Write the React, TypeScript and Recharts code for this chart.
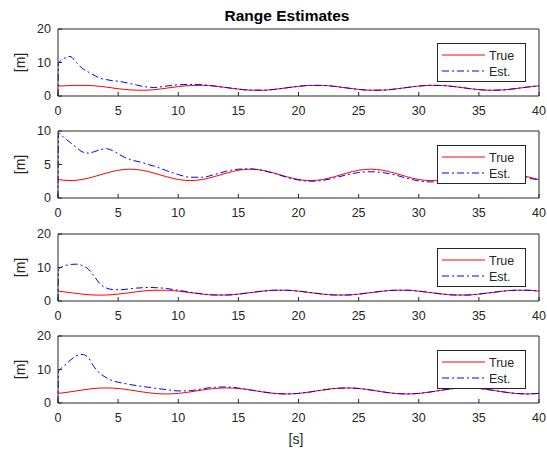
import { Line, LineChart, XAxis, YAxis } from 'recharts'

// sample times [s]
const T = [
  0, 0.05, 0.5, 1, 1.5, 2, 2.5, 3, 3.5, 4, 4.5, 5, 5.5, 6, 6.5, 7, 7.5, 8,
  9, 10, 11, 12, 13, 14, 15, 16, 17, 18, 19, 20, 21, 22, 23, 24, 25, 26, 27, 28, 29, 30,
  31, 32, 33, 34, 35, 36, 37, 38, 39, 40,
]

const TRUE_1 = [
  2.95, 2.96, 3.05, 3.12, 3.17, 3.18, 3.15, 3.05, 2.88, 2.67, 2.42, 2.18, 1.98, 1.83, 1.74, 1.71, 1.75, 1.88,
  2.33, 2.8, 3.13, 3.19, 2.95, 2.52, 2.06, 1.75, 1.72, 1.98, 2.43, 2.88, 3.16, 3.16, 2.88, 2.42, 1.98, 1.72, 1.75, 2.06, 2.52, 2.96,
  3.19, 3.12, 2.79, 2.32, 1.9, 1.71, 1.81, 2.18, 2.65, 3.04,
]
const EST_1 = [
  0, 9.8, 11.2, 11.8, 10.1, 8.3, 7.2, 6.2, 5.3, 4.9, 4.6, 4.4, 4.1, 3.7, 3.3, 2.9, 2.65, 2.55,
  2.95, 3.35, 3.45, 3.35, 3.0, 2.52, 2.05, 1.74, 1.72, 1.99, 2.44, 2.89, 3.16, 3.15, 2.87, 2.41, 1.97, 1.72, 1.76, 2.07, 2.53, 2.97,
  3.19, 3.11, 2.78, 2.31, 1.9, 1.72, 1.82, 2.19, 2.66, 3.04,
]

const TRUE_2 = [
  2.76, 2.75, 2.65, 2.6, 2.64, 2.76, 2.95, 3.19, 3.45, 3.71, 3.95, 4.14, 4.26, 4.3, 4.26, 4.14, 3.95, 3.71,
  3.19, 2.76, 2.6, 2.76, 3.19, 3.71, 4.14, 4.3, 4.14, 3.71, 3.19, 2.76, 2.6, 2.76, 3.19, 3.71, 4.14, 4.3, 4.14, 3.71, 3.19, 2.76,
  2.6, 2.76, 3.19, 3.71, 4.14, 4.3, 4.14, 3.71, 3.19, 2.76,
]
const EST_2 = [
  0, 9.7, 9.0, 8.3, 7.6, 6.9, 6.7, 6.9, 7.2, 7.35, 7.1, 6.6, 6.1, 5.75, 5.5, 5.3, 5.0, 4.75,
  4.1, 3.5, 3.1, 3.1, 3.5, 4.0, 4.3, 4.35, 4.1, 3.65, 3.1, 2.68, 2.5, 2.62, 3.0, 3.45, 3.8, 3.92, 3.8, 3.45, 2.95, 2.55,
  2.4, 2.45, 2.8, 3.3, 3.75, 3.95, 3.85, 3.45, 3.0, 2.7,
]

const TRUE_3 = [
  2.94, 2.92, 2.73, 2.5, 2.27, 2.06, 1.89, 1.79, 1.75, 1.79, 1.89, 2.06, 2.27, 2.5, 2.73, 2.94, 3.11, 3.21,
  3.21, 2.94, 2.5, 2.06, 1.79, 1.79, 2.06, 2.5, 2.94, 3.21, 3.21, 2.94, 2.5, 2.06, 1.79, 1.79, 2.06, 2.5, 2.94, 3.21, 3.21, 2.94,
  2.5, 2.06, 1.79, 1.79, 2.06, 2.5, 2.94, 3.21, 3.21, 2.94,
]
const EST_3 = [
  0, 9.5, 10.4, 10.9, 11.0, 10.6, 9.6, 7.4, 5.1, 3.9, 3.45, 3.35, 3.45, 3.65, 3.85, 3.95, 4.05, 4.0,
  3.75, 3.2, 2.65, 2.1, 1.8, 1.78, 2.05, 2.5, 2.93, 3.2, 3.21, 2.95, 2.51, 2.07, 1.8, 1.78, 2.05, 2.49, 2.93, 3.2, 3.22, 2.95,
  2.51, 2.06, 1.78, 1.77, 2.05, 2.5, 2.94, 3.2, 3.21, 2.95,
]

const TRUE_4 = [
  2.87, 2.89, 3.07, 3.32, 3.6, 3.88, 4.13, 4.33, 4.46, 4.5, 4.46, 4.33, 4.13, 3.88, 3.6, 3.32, 3.07, 2.87,
  2.7, 2.87, 3.32, 3.88, 4.33, 4.5, 4.33, 3.88, 3.32, 2.87, 2.7, 2.87, 3.32, 3.88, 4.33, 4.5, 4.33, 3.88, 3.32, 2.87, 2.7, 2.87,
  3.32, 3.88, 4.33, 4.5, 4.33, 3.88, 3.32, 2.87, 2.7, 2.87,
]
const EST_4 = [
  0, 9.5, 11.0, 12.7, 14.0, 14.5, 13.6, 10.8, 8.8, 7.6, 6.7, 6.2, 5.85, 5.5, 5.2, 4.95, 4.7, 4.45,
  4.0, 3.6, 3.7, 4.25, 4.7, 4.8, 4.45, 3.9, 3.33, 2.88, 2.7, 2.86, 3.31, 3.87, 4.32, 4.5, 4.34, 3.89, 3.33, 2.87, 2.69, 2.86,
  3.31, 3.88, 4.33, 4.51, 4.34, 3.89, 3.33, 2.88, 2.7, 2.87,
]

const X_TICKS = [0, 5, 10, 15, 20, 25, 30, 35, 40]

const panels = [
  { top: 29, yMax: 20, yTicks: [0, 10, 20], truth: TRUE_1, est: EST_1 },
  { top: 131, yMax: 10, yTicks: [0, 5, 10], truth: TRUE_2, est: EST_2 },
  { top: 234, yMax: 20, yTicks: [0, 10, 20], truth: TRUE_3, est: EST_3 },
  { top: 336, yMax: 20, yTicks: [0, 10, 20], truth: TRUE_4, est: EST_4 },
]

const W = 547
const PLOT_H = 67
const AXIS = '#262626'
const FONT = '"Liberation Sans", Arial, Helvetica, sans-serif'
const EST_DASH = '7 3 2 3'
const TICK_FS = 12.5

function Panel({ top, yMax, yTicks, truth, est }: (typeof panels)[number]) {
  const rows = T.map((t, i) => ({ t, truth: truth[i], est: est[i] }))
  const tickStyle = { fill: AXIS, fontSize: TICK_FS, fontFamily: FONT }
  return (
    <div style={{ position: 'absolute', left: 0, top: top - 15, width: W, height: 110 }}>
      <LineChart width={W} height={110} data={rows} margin={{ top: 14, right: 0, bottom: 0, left: 0 }}>
        <XAxis
          dataKey="t"
          type="number"
          domain={[0, 40]}
          ticks={X_TICKS}
          interval={0}
          height={28}
          tickSize={-4}
          tickMargin={14}
          tick={tickStyle}
          stroke={AXIS}
        />
        <XAxis
          xAxisId="top"
          orientation="top"
          dataKey="t"
          type="number"
          domain={[0, 40]}
          ticks={X_TICKS}
          interval={0}
          height={1}
          tickSize={-4}
          tick={false}
          stroke={AXIS}
        />
        <YAxis
          type="number"
          domain={[0, yMax]}
          ticks={yTicks}
          interval={0}
          width={58}
          tickSize={-4}
          tickMargin={11}
          tick={tickStyle}
          stroke={AXIS}
        />
        <YAxis
          yAxisId="right"
          orientation="right"
          type="number"
          domain={[0, yMax]}
          ticks={yTicks}
          interval={0}
          width={8}
          tickSize={-4}
          tick={false}
          stroke={AXIS}
        />
        <Line type="monotone" dataKey="truth" stroke="#ff0000" strokeWidth={1} dot={false} isAnimationActive={false} />
        <Line
          type="monotone"
          dataKey="est"
          stroke="#0000ff"
          strokeWidth={1}
          strokeDasharray={EST_DASH}
          dot={false}
          isAnimationActive={false}
        />
      </LineChart>
    </div>
  )
}

export default function App() {
  return (
    <div style={{ position: 'absolute', left: 0, top: 0, width: W, height: 451, background: '#fff', fontFamily: FONT }}>
      {panels.map((p, i) => (
        <Panel key={i} {...p} />
      ))}
      <svg width={W} height={451} style={{ position: 'absolute', left: 0, top: 0, pointerEvents: 'none' }}>
        <text x={287} y={20.5} textAnchor="middle" fontSize={15.5} fontWeight="bold" fill="#000" fontFamily={FONT}>
          Range Estimates
        </text>
        {panels.map((p, i) => {
          const lt = p.top + 14
          return (
            <g key={i}>
              <text
                transform={`translate(25, ${p.top + PLOT_H / 2}) rotate(-90)`}
                textAnchor="middle"
                fontSize={14}
                fill={AXIS}
                fontFamily={FONT}
              >
                [m]
              </text>
              <rect x={437.5} y={lt + 0.5} width={88} height={38} fill="#fff" stroke={AXIS} strokeWidth={1} />
              <line x1={442} x2={485} y1={lt + 12} y2={lt + 12} stroke="#ff0000" strokeWidth={1} />
              <text x={489} y={lt + 16.5} fontSize={TICK_FS} fill={AXIS} fontFamily={FONT}>
                True
              </text>
              <line
                x1={442}
                x2={485}
                y1={lt + 28}
                y2={lt + 28}
                stroke="#0000ff"
                strokeWidth={1}
                strokeDasharray={EST_DASH}
              />
              <text x={489} y={lt + 32.5} fontSize={TICK_FS} fill={AXIS} fontFamily={FONT}>
                Est.
              </text>
            </g>
          )
        })}
        <text x={296} y={444} textAnchor="middle" fontSize={14} fill={AXIS} fontFamily={FONT}>
          [s]
        </text>
      </svg>
    </div>
  )
}
